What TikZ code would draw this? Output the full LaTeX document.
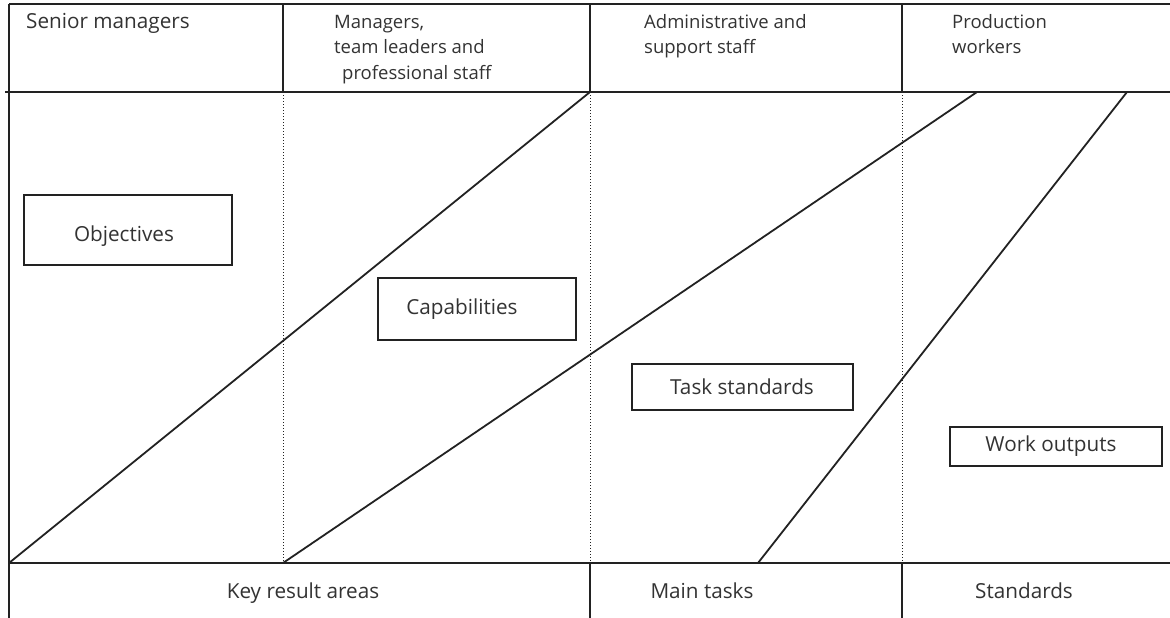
\documentclass[tikz,border=0pt]{standalone}
\usepackage{fontspec}
\setmainfont{Open Sans}
\definecolor{ink}{HTML}{222222}
\definecolor{txt}{HTML}{333333}
\begin{document}
\begin{tikzpicture}[x=1pt,y=-1pt,
  rule/.style={draw=ink,line width=2pt},
  divider/.style={draw=ink,line width=1pt,dotted},
  diag/.style={draw=ink,line width=1.8pt},
  lbl/.style={text=txt,font=\fontsize{18.5}{24}\selectfont,inner sep=0pt},
  biglbl/.style={text=txt,font=\fontsize{20.7}{26}\selectfont,inner sep=0pt},
  databox/.style={draw=ink,line width=2pt,inner sep=0pt}]
\useasboundingbox (0,0) rectangle (1170,618);
\fill[white] (0,0) rectangle (1170,618);
% frame coordinates
\coordinate (tl) at (9,4);
\coordinate (tr) at (1170,4);
\coordinate (hl) at (5,92);
\coordinate (hr) at (1170,92);
\coordinate (fl) at (9,563);
\coordinate (fr) at (1170,563);
\coordinate (bl) at (9,618);
% column dividers
\coordinate (c1t) at (283,4);   \coordinate (c1h) at (283,92);  \coordinate (c1f) at (283,563);
\coordinate (c2t) at (590,4);   \coordinate (c2h) at (590,92);  \coordinate (c2f) at (590,563); \coordinate (c2b) at (590,618);
\coordinate (c3t) at (902,4);   \coordinate (c3h) at (902,92);  \coordinate (c3f) at (902,563); \coordinate (c3b) at (902,618);
% outer rules
\draw[rule] (tl) -- (tr);
\draw[rule] (hl) -- (hr);
\draw[rule] (fl) -- (fr);
\draw[rule] (tl) -- (bl);
% header dividers (solid)
\draw[rule] (c1t) -- (c1h);
\draw[rule] (c2t) -- (c2h);
\draw[rule] (c3t) -- (c3h);
% body dividers (dotted)
\draw[divider] (c1h) -- (c1f);
\draw[divider] (c2h) -- (c2f);
\draw[divider] (c3h) -- (c3f);
% footer dividers (solid)
\draw[rule] (c2f) -- (c2b);
\draw[rule] (c3f) -- (c3b);
% diagonals
\coordinate (d2t) at (977,92);
\coordinate (d3t) at (1127,92);
\coordinate (d3b) at (758,563);
\draw[diag] (fl) -- (c2h);
\draw[diag] (c1f) -- (d2t);
\draw[diag] (d3b) -- (d3t);
% header labels
\node[biglbl,anchor=base west] (hsm) at (26,29) {Senior managers};
\node[lbl,anchor=base west] (hmg1) at (334,29) {Managers,};
\node[lbl,anchor=base west] (hmg2) at (334,54) {team leaders and};
\node[lbl,anchor=base west] (hmg3) at (342,79) {professional staff};
\node[lbl,anchor=base west] (had1) at (644,29) {Administrative and};
\node[lbl,anchor=base west] (had2) at (644,54) {support staff};
\node[lbl,anchor=base west] (hpw1) at (952,29) {Production};
\node[lbl,anchor=base west] (hpw2) at (952,54) {workers};
% footer labels
\node[biglbl,anchor=base] (fkr) at (303,598) {Key result areas};
\node[biglbl,anchor=base] (fmt) at (702,598) {Main tasks};
\node[biglbl,anchor=base] (fst) at (1024,598) {Standards};
% boxes
\node[databox,minimum width=208pt,minimum height=70pt] (obj) at (128,230) {};
\node[databox,minimum width=198pt,minimum height=62pt] (cap) at (477,309) {};
\node[databox,minimum width=221pt,minimum height=46pt] (tsk) at (742,387) {};
\node[databox,minimum width=212pt,minimum height=39pt] (wo) at (1056,446) {};
% box texts
\node[biglbl] (objt) at ([xshift=-4pt,yshift=-6pt]obj.center) {Objectives};
\node[biglbl] (capt) at ([xshift=-15pt]cap.center) {Capabilities};
\node[biglbl] (tskt) at (tsk.center) {Task standards};
\node[biglbl] (wot) at ([xshift=-5pt]wo.center) {Work outputs};
\end{tikzpicture}
\end{document}
